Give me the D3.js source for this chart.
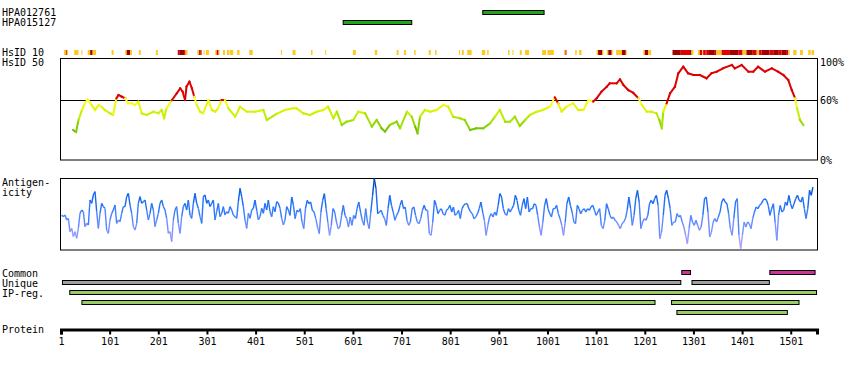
<!DOCTYPE html>
<html><head><meta charset="utf-8">
<script src="https://cdn.jsdelivr.net/npm/d3@7"></script>
<style>body{margin:0;background:#fff}svg{display:block}text{font-family:"DejaVu Sans Mono",monospace;font-size:10px;fill:#000}</style>
</head><body><svg id="c" width="850" height="370"></svg>
<script>
// ---------------- DATA ----------------
const proteinLength = 1555;
const axisTicks = [1,101,201,301,401,501,601,701,801,901,1001,1101,1201,1301,1401,1501];
const antibodies = [{name:"HPA012761", start:868, end:994},{name:"HPA015127", start:581, end:722}];
// HsID 10 blocks: [start, end, level] level 1=yellow 2=red 3=dark red
const hsid10 = [[7,11,1],[11,13,2],[13,15,1],[28,37,1],[43,44,1],[56,61,1],[61,66,3],[66,73,1],[105,109,1],[133,136,1],[136,143,3],[143,147,1],[161,165,1],[196,200,1],[241,244,2],[244,254,3],[254,257,2],[257,261,1],[281,285,1],[285,288,3],[288,290,2],[294,296,1],[299,305,1],[318,321,1],[321,325,2],[325,327,1],[334,338,1],[342,347,1],[348,355,1],[363,368,1],[388,395,1],[453,455,1],[477,483,1],[515,518,1],[544,545,1],[601,607,1],[646,651,1],[691,695,1],[706,710,1],[727,730,1],[757,761,1],[770,773,1],[819,820,1],[825,829,1],[836,845,1],[866,873,1],[877,880,1],[920,923,1],[929,931,1],[944,948,1],[955,963,1],[990,998,1],[1001,1014,1],[1035,1038,1],[1038,1040,2],[1058,1061,1],[1066,1071,1],[1102,1105,1],[1105,1114,3],[1114,1116,1],[1123,1126,1],[1126,1133,3],[1133,1135,1],[1142,1154,1],[1154,1162,3],[1162,1164,1],[1198,1201,1],[1201,1208,3],[1208,1214,1],[1258,1275,3],[1275,1294,2],[1294,1297,3],[1297,1301,1],[1310,1314,1],[1314,1319,2],[1319,1321,1],[1321,1326,2],[1326,1328,3],[1328,1333,2],[1333,1345,3],[1345,1348,2],[1348,1359,1],[1359,1376,2],[1376,1393,3],[1393,1402,2],[1402,1410,1],[1410,1423,3],[1423,1431,2],[1431,1436,1],[1436,1441,2],[1441,1457,3],[1457,1465,2],[1465,1475,3],[1475,1482,2],[1482,1493,3],[1493,1496,2],[1496,1499,1],[1506,1513,1],[1520,1526,1],[1537,1542,1],[1544,1549,1]];
// HsID 50 identity (%)
const identityPos = [26,32,37,44,50,56,64,71,78,85,91,102,108,115,119,126,133,139,146,153,160,167,177,191,201,208,213,218,229,239,246,251,256,259,265,270,275,280,287,293,304,311,318,324,331,338,345,359,369,383,400,417,424,444,461,478,485,499,513,527,540,550,561,568,578,588,602,612,626,640,650,660,667,677,691,698,712,722,729,734,739,749,760,773,787,797,807,821,831,842,855,869,883,893,903,914,924,934,944,955,965,979,992,1006,1016,1023,1030,1040,1054,1064,1075,1085,1095,1102,1112,1123,1129,1143,1150,1157,1167,1177,1188,1195,1205,1215,1225,1231,1236,1239,1246,1253,1263,1270,1280,1290,1301,1314,1328,1338,1349,1362,1380,1386,1400,1414,1424,1434,1448,1462,1475,1486,1496,1503,1510,1514,1520,1527];
const identityVal = [30,28,40,50,56.7,60.7,55,50,55,53,50,46.7,45,61.7,65,63.3,61.7,56.7,56.7,55,58.3,46.7,45,48.3,46.7,50,41.7,51.7,60,66.7,71.7,68.3,60,73.3,78.3,71.7,63.3,55,48.3,46.7,60,50,48.3,51.7,60,60,51.7,43.3,53.3,48.3,48.3,50,40,46,50,51.7,51.7,46.7,45,48.3,50,53.3,41.7,48.3,35,38.3,40,48.3,46.7,33.3,40,31.7,28.3,35,38.3,31.7,48.3,43.3,33.3,26.7,43.3,50,48.3,50,55,53.3,43.3,41.7,40,30,31.7,31.7,36.7,43.3,50,38.3,38.3,43.3,34,40,45,48.3,50,53.3,62.7,56.7,48.3,53.3,56.7,50,50,60,58.3,61.7,68.3,73.3,76.7,76.7,80.7,75,70,67.3,61.7,55,48.3,48.3,46.7,40,31.7,48.3,56.7,66.7,73.3,86.7,93.3,86.7,85,85,81.7,86.7,88.3,91.7,95,91.7,95,88.3,88.3,93.3,88.3,91.7,88.3,85,80,70,61.7,51.7,40,35];
// Antigenicity (arbitrary units), two sampled runs
const antigenStartA = 2.4, antigenStepA = 3.426;
const antigenA = [105,100,105,90,95,55,65,40,55,35,65,110,120,115,70,80,75,150,140,165,175,115,65,110,140,130,125,60,50,90,110,120,135,80,90,85,110,130,130,160,170,135,110,70,60,80,140,160,140,145,150,120,90,110,140,120,70,90,110,140,150,130,120,95,50,55,25,90,120,130,80,50,100,130,140,120,150,105,95,140,170,140,125,100,80,160,165,140,150,130,140,150,90,115,140,100,110,130,105,115,110,130,120,105,100,95,145,185,160,130,90,65,110,95,120,125,150,120,90,100,125,110,140,120,150,115,100,130,115,145,140,125,95,75,90,130,120];
const antigenStartB = 471.7, antigenStepB = 3.536;
const antigenB = [104,159,134,94,119,114,124,84,64,124,149,139,144,119,114,94,69,49,114,149,169,124,84,44,74,124,114,84,64,69,104,134,104,94,69,99,74,104,94,124,144,114,89,74,124,84,64,114,164,214,184,109,114,119,104,94,74,124,164,134,114,89,104,114,134,149,124,129,89,74,84,124,129,104,84,79,94,119,134,119,119,49,44,84,149,134,109,119,124,109,104,119,124,134,114,129,104,109,119,94,124,134,139,139,124,114,109,94,99,109,124,144,114,89,44,74,99,109,99,114,104,134,169,159,124,109,104,124,114,124,134,164,149,119,104,134,154,124,159,114,124,124,139,134,104,69,44,84,134,154,124,109,99,124,124,134,109,94,74,44,84,139,159,134,114,84,79,134,124,109,119,124,114,124,119,129,134,119,104,114,124,74,64,89,139,124,104,94,99,89,84,74,64,79,84,94,119,159,124,74,104,154,179,144,64,84,94,89,104,139,149,139,154,164,134,34,54,104,164,179,154,124,74,84,84,109,99,104,84,69,44,19,64,104,84,74,89,74,59,69,104,154,159,114,39,54,84,94,84,99,114,144,154,144,139,109,64,44,94,144,154,44,4,44,84,69,84,79,64,94,114,129,124,134,139,149,154,149,134,104,124,139,84,29,104,134,114,119,144,134,164,139,124,139,154,164,149,144,159,124,94,124,179,164,189];
// Bars: rows
const commonBars = [[1276,1294],[1457,1550]];
const uniqueBars = [[3,1274],[1297,1456]];
const ipRegRows = [[[18,1553]],[[43,1221],[1255,1517]],[[1266,1493]]];

// ---------------- DRAW ----------------
const svg = d3.select("#c");
svg.append("rect").attr("width",850).attr("height",370).attr("fill","#fff");
const x = d3.scaleLinear().domain([1, proteinLength]).range([61, 817]);
const X0 = 60, X1 = 817;

// labels
const lab = (t, xx, yy) => svg.append("text").attr("x", xx).attr("y", yy).text(t);
antibodies.forEach((a,i)=>{
  lab(a.name, 2, 16 + i*10);
  svg.append("rect").attr("x", x(a.start)).attr("y", 10.5 + i*10).attr("width", x(a.end)-x(a.start)).attr("height", 4)
    .attr("fill","#22a31c").attr("stroke","#000").attr("stroke-width",1);
});
lab("HsID 10", 2, 56); lab("HsID 50", 2, 66);
lab("Antigen-", 2, 186); lab("icity", 2, 196);
lab("Common", 2, 277); lab("Unique", 2, 287); lab("IP-reg.", 2, 297);
lab("Protein", 2, 333);

// HsID 10 strip
const hsColor = {1:"#ffc81e", 2:"#e00000", 3:"#a00000"};
svg.append("g").selectAll("rect").data(hsid10).join("rect")
  .attr("x", d=>x(d[0])).attr("y", 50).attr("width", d=>Math.max(1, x(d[1])-x(d[0]))).attr("height", 5)
  .attr("fill", d=>hsColor[d[2]]);

// Identity panel
const yI = d3.scaleLinear().domain([0,100]).range([160,60]);
svg.append("rect").attr("x", X0+0.5).attr("y", 58.5).attr("width", X1-X0).attr("height", 101.5).attr("fill","none").attr("stroke","#000");
svg.append("line").attr("x1",X0).attr("x2",X1).attr("y1",Math.round(yI(60))+0.5).attr("y2",Math.round(yI(60))+0.5).attr("stroke","#000");
[["100%",100,66],["60%",60,104],["0%",0,164]].forEach(d=>lab(d[0], 820, d[2]));
const idColor = d3.scaleLinear().domain([25,35,45,52,59]).range(["#5aaa00","#8ad400","#bff000","#e6f500","#ffff30"]).clamp(true);
const idPts = identityPos.map((p,i)=>[p, identityVal[i]]);
const idSegs = d3.pairs(idPts);
svg.append("g").selectAll("line").data(idSegs).join("line")
  .attr("x1", d=>x(d[0][0])).attr("y1", d=>yI(d[0][1])).attr("x2", d=>x(d[1][0])).attr("y2", d=>yI(d[1][1]))
  .attr("stroke", d=>{const m=(d[0][1]+d[1][1])/2; return m>=59.5 ? "#dd0000" : idColor(m);})
  .attr("stroke-width", 2).attr("stroke-linecap","square");

// Antigenicity panel
const yA = d3.scaleLinear().domain([0,216]).range([250,178]);
svg.append("rect").attr("x", X0+0.5).attr("y", 178.5).attr("width", X1-X0).attr("height", 71.5).attr("fill","none").attr("stroke","#000");
const agPts = antigenA.map((v,i)=>[antigenStartA + i*antigenStepA, v])
  .concat(antigenB.map((v,i)=>[antigenStartB + i*antigenStepB, v]));
const agColor = d3.scaleLinear().domain([20,70,120,170,215]).range(["#a8a0ff","#7890ff","#2a78ff","#0a5ee8","#003c90"]).clamp(true);
svg.append("g").selectAll("line").data(d3.pairs(agPts)).join("line")
  .attr("x1", d=>x(d[0][0])).attr("y1", d=>yA(d[0][1])).attr("x2", d=>x(d[1][0])).attr("y2", d=>yA(d[1][1]))
  .attr("stroke", d=>agColor((d[0][1]+d[1][1])/2)).attr("stroke-width",1.4);

// Bars
const bar = (arr, yy, fill) => arr.forEach(b=>svg.append("rect").attr("x", x(b[0])+0.5).attr("y", yy+0.5)
  .attr("width", x(b[1])-x(b[0])).attr("height", 4).attr("fill", fill).attr("stroke","#000"));
bar(commonBars, 270, "#cc3399");
bar(uniqueBars, 280, "#a0a0a0");
ipRegRows.forEach((row,i)=>bar(row, 290 + i*10, "#99cc66"));

// Protein axis
const ax = d3.axisBottom(x).tickValues(axisTicks).tickFormat(d3.format("d")).tickSize(5).tickSizeOuter(5).tickPadding(3);
const gA = svg.append("g").attr("transform","translate(0,329.5)").call(ax);
gA.select(".domain").attr("stroke","#000").attr("stroke-width",3);
gA.selectAll(".tick line").attr("stroke","#000").attr("stroke-width",2);
gA.selectAll("text").attr("font-family","DejaVu Sans Mono").attr("font-size",10).attr("fill","#000");
</script></body></html>
